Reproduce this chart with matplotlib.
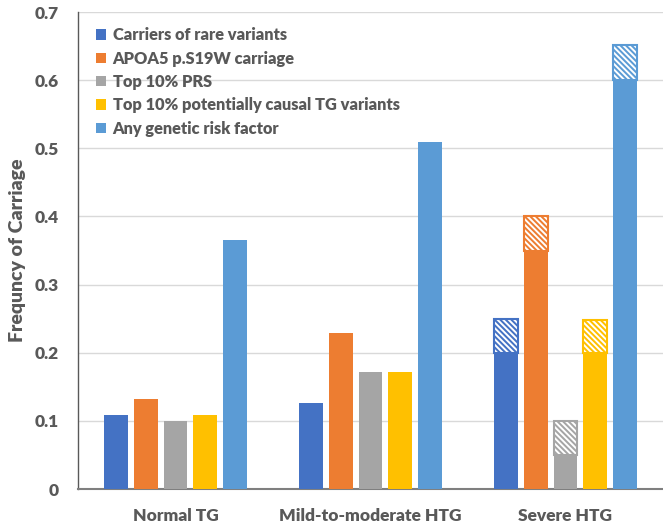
import matplotlib
matplotlib.use("Agg")
import matplotlib.pyplot as plt
import numpy as np

plt.rcParams['font.family'] = ['Lato', 'DejaVu Sans']
plt.rcParams['hatch.linewidth'] = 1.4

categories = ["Normal TG", "Mild-to-moderate HTG", "Severe HTG"]
series = ["Carriers of rare variants", "APOA5 p.S19W carriage", "Top 10% PRS",
          "Top 10% potentially causal TG variants", "Any genetic risk factor"]
colors = ["#4472C4", "#ED7D31", "#A5A5A5", "#FFC000", "#5B9BD5"]

# solid part values per series (over categories)
solid = [
    [0.108, 0.126, 0.20],
    [0.132, 0.229, 0.35],
    [0.100, 0.172, 0.05],
    [0.108, 0.172, 0.20],
    [0.365, 0.510, 0.60],
]
# hatched extra part on top
hatched = [
    [0, 0, 0.05],
    [0, 0, 0.05],
    [0, 0, 0.05],
    [0, 0, 0.048],
    [0, 0, 0.052],
]
yticks = [0, 0.1, 0.2, 0.3, 0.4, 0.5, 0.6, 0.7]
ytick_labels = ["0", "0.1", "0.2", "0.3", "0.4", "0.5", "0.6", "0.7"]

text_color = "#595959"
W = 'heavy'

fig = plt.figure(figsize=(6.63, 5.27), dpi=100)
ax = fig.add_axes([0.1176, 0.0721, 0.8824, 0.905])

x = np.arange(len(categories))
step = 0.153
width = 0.122
for i, (name, col) in enumerate(zip(series, colors)):
    pos = x + (i - 2) * step
    ax.bar(pos, solid[i], width=width, color=col, label=name, zorder=3, linewidth=0)
    for j in range(len(categories)):
        if hatched[i][j] > 0:
            ax.bar(pos[j], hatched[i][j], bottom=solid[i][j], width=width,
                   facecolor=col, edgecolor="white", hatch="\\" * 6, linewidth=0, zorder=3)
            ax.bar(pos[j], hatched[i][j], bottom=solid[i][j], width=width,
                   fill=False, edgecolor=col, linewidth=1.5, zorder=4)

ax.set_xlim(-0.5, 2.5)
ax.set_ylim(0, 0.7)
ax.set_yticks(yticks)
ax.set_yticklabels(ytick_labels)
ax.set_xticks(x)
ax.set_xticklabels(categories)
ax.tick_params(axis='both', length=0, labelsize=12.5, colors=text_color)
for lab in ax.get_xticklabels() + ax.get_yticklabels():
    lab.set_fontweight(W)
ax.tick_params(axis='y', pad=14)
ax.tick_params(axis='x', pad=14)

ax.grid(axis='y', color="#D9D9D9", linewidth=1, zorder=0)
ax.set_axisbelow(True)
for s in ['top', 'right']:
    ax.spines[s].set_visible(False)
ax.spines['left'].set_color("#595959")
ax.spines['bottom'].set_color("#7F7F7F")
ax.spines['bottom'].set_linewidth(1.5)
ax.spines['left'].set_linewidth(1.0)

ax.set_ylabel("Frequncy of Carriage", fontsize=14, fontweight=W, color=text_color, labelpad=6)

leg = ax.legend(loc='upper left', bbox_to_anchor=(0.02, 0.982), frameon=False,
                prop={'size': 11.8, 'weight': W}, handlelength=0.6, handleheight=0.6,
                handletextpad=0.4, labelspacing=0.45, borderaxespad=0)
for t in leg.get_texts():
    t.set_color(text_color)

fig.savefig("out.png", dpi=100)
